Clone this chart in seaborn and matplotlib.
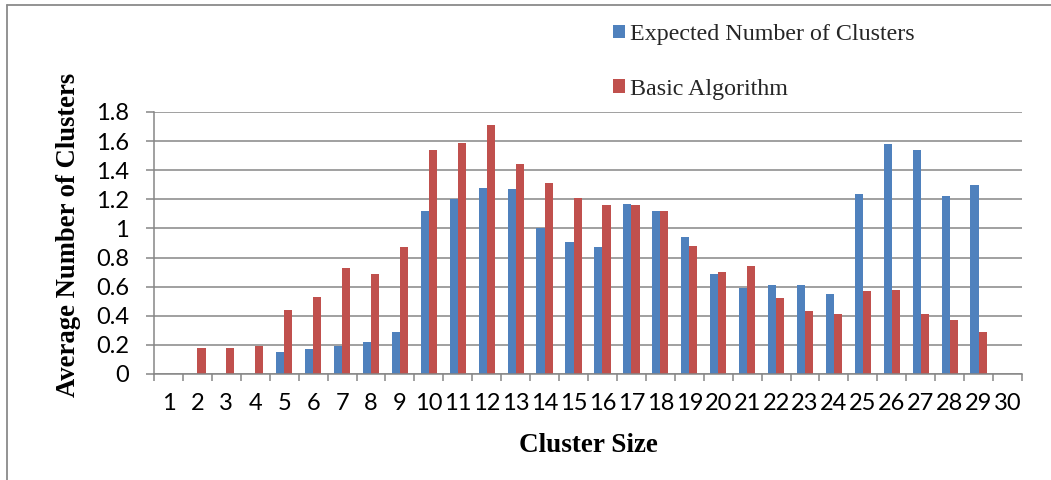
import matplotlib
matplotlib.use("Agg")
import matplotlib.pyplot as plt
from matplotlib.lines import Line2D
from matplotlib.ticker import FixedLocator, FuncFormatter
import seaborn as sns
import pandas as pd
import numpy as np

categories = [str(i) for i in range(1, 31)]
expected = [0, 0, 0, 0, 0.15, 0.17, 0.19, 0.22, 0.29, 1.12,
            1.20, 1.28, 1.27, 1.00, 0.91, 0.87, 1.17, 1.12, 0.94, 0.69,
            0.59, 0.61, 0.61, 0.55, 1.24, 1.58, 1.54, 1.22, 1.30, 0]
basic = [0, 0.18, 0.18, 0.19, 0.44, 0.53, 0.73, 0.69, 0.87, 1.54,
         1.59, 1.71, 1.44, 1.31, 1.21, 1.16, 1.16, 1.12, 0.88, 0.70,
         0.74, 0.52, 0.43, 0.41, 0.57, 0.58, 0.41, 0.37, 0.29, 0]
series_names = ["Expected Number of Clusters", "Basic Algorithm"]
y_ticks = [0, 0.2, 0.4, 0.6, 0.8, 1.0, 1.2, 1.4, 1.6, 1.8]

df = pd.DataFrame({
    "Cluster Size": categories * 2,
    "value": expected + basic,
    "series": [series_names[0]] * len(categories) + [series_names[1]] * len(categories),
})

sns.set_theme(style="white")
plt.rcParams["font.family"] = ["Lato", "DejaVu Sans"]

fig = plt.figure(figsize=(10.51, 4.8), dpi=100)
ax = fig.add_axes([154 / 1051, 1 - 374 / 480, (1022 - 154) / 1051, (374 - 112) / 480])

palette = {series_names[0]: "#4F81BD", series_names[1]: "#C0504D"}
sns.barplot(data=df, x="Cluster Size", y="value", hue="series", order=categories,
            hue_order=series_names, palette=palette, width=0.56, gap=0,
            linewidth=0, saturation=1, ax=ax, legend=True)

grid_c = "#868686"
ax.set_ylim(0, 1.8)
ax.set_xlim(-0.5, len(categories) - 0.5)
ax.yaxis.set_major_locator(FixedLocator(y_ticks))
ax.yaxis.set_major_formatter(FuncFormatter(lambda v, p: f"{v:g}"))
ax.yaxis.grid(True, color=grid_c, linewidth=1.1)
ax.set_axisbelow(True)

# x ticks: marks at category boundaries, labels at centres
ax.xaxis.set_major_locator(FixedLocator(np.arange(-0.5, len(categories) + 0.5, 1.0)))
ax.xaxis.set_major_formatter(FuncFormatter(lambda v, p: ""))
ax.xaxis.set_minor_locator(FixedLocator(np.arange(len(categories))))
ax.xaxis.set_minor_formatter(FuncFormatter(lambda v, p: categories[int(round(v))]))
ax.tick_params(axis="x", which="major", length=5, width=1.1, color=grid_c, direction="out")
ax.tick_params(axis="x", which="minor", length=0, pad=14, labelsize=17, labelcolor="black")
ax.tick_params(axis="y", which="major", length=6, width=1.1, color=grid_c, direction="out",
               pad=12, labelsize=17, labelcolor="black")
ax.tick_params(axis="both", bottom=True, left=True)

for s in ["top", "right"]:
    ax.spines[s].set_visible(False)
for s in ["left", "bottom"]:
    ax.spines[s].set_color(grid_c)
    ax.spines[s].set_linewidth(1.1)

ax.set_xlabel("Cluster Size", family=["Liberation Serif"], fontweight="bold", fontsize=19.5,
              labelpad=13, color="black")
ax.set_ylabel("Average Number of Clusters", family=["Liberation Serif"], fontweight="bold",
              fontsize=19.2, labelpad=11, color="black")
ax.yaxis.label.set_y((374 - 235) / (374 - 112))

handles, labels = ax.get_legend_handles_labels()
ax.get_legend().remove()
fig.legend(handles, labels, loc="upper left", bbox_to_anchor=(613 / 1051, 1 - 24 / 480),
           frameon=False, prop={"family": "Liberation Serif", "size": 17.3},
           handlelength=0.5, handleheight=0.5, handletextpad=0.2, labelspacing=1.4,
           borderaxespad=0, borderpad=0)

# outer frame (top and left edges visible)
fig.add_artist(Line2D([7 / 1051, 1.0], [1 - 5 / 480, 1 - 5 / 480], transform=fig.transFigure,
                      color="#8a8a8a", linewidth=1.3))
fig.add_artist(Line2D([7 / 1051, 7 / 1051], [0, 1 - 5 / 480], transform=fig.transFigure,
                      color="#8a8a8a", linewidth=1.3))

fig.savefig("out.png", dpi=100, facecolor="white")
